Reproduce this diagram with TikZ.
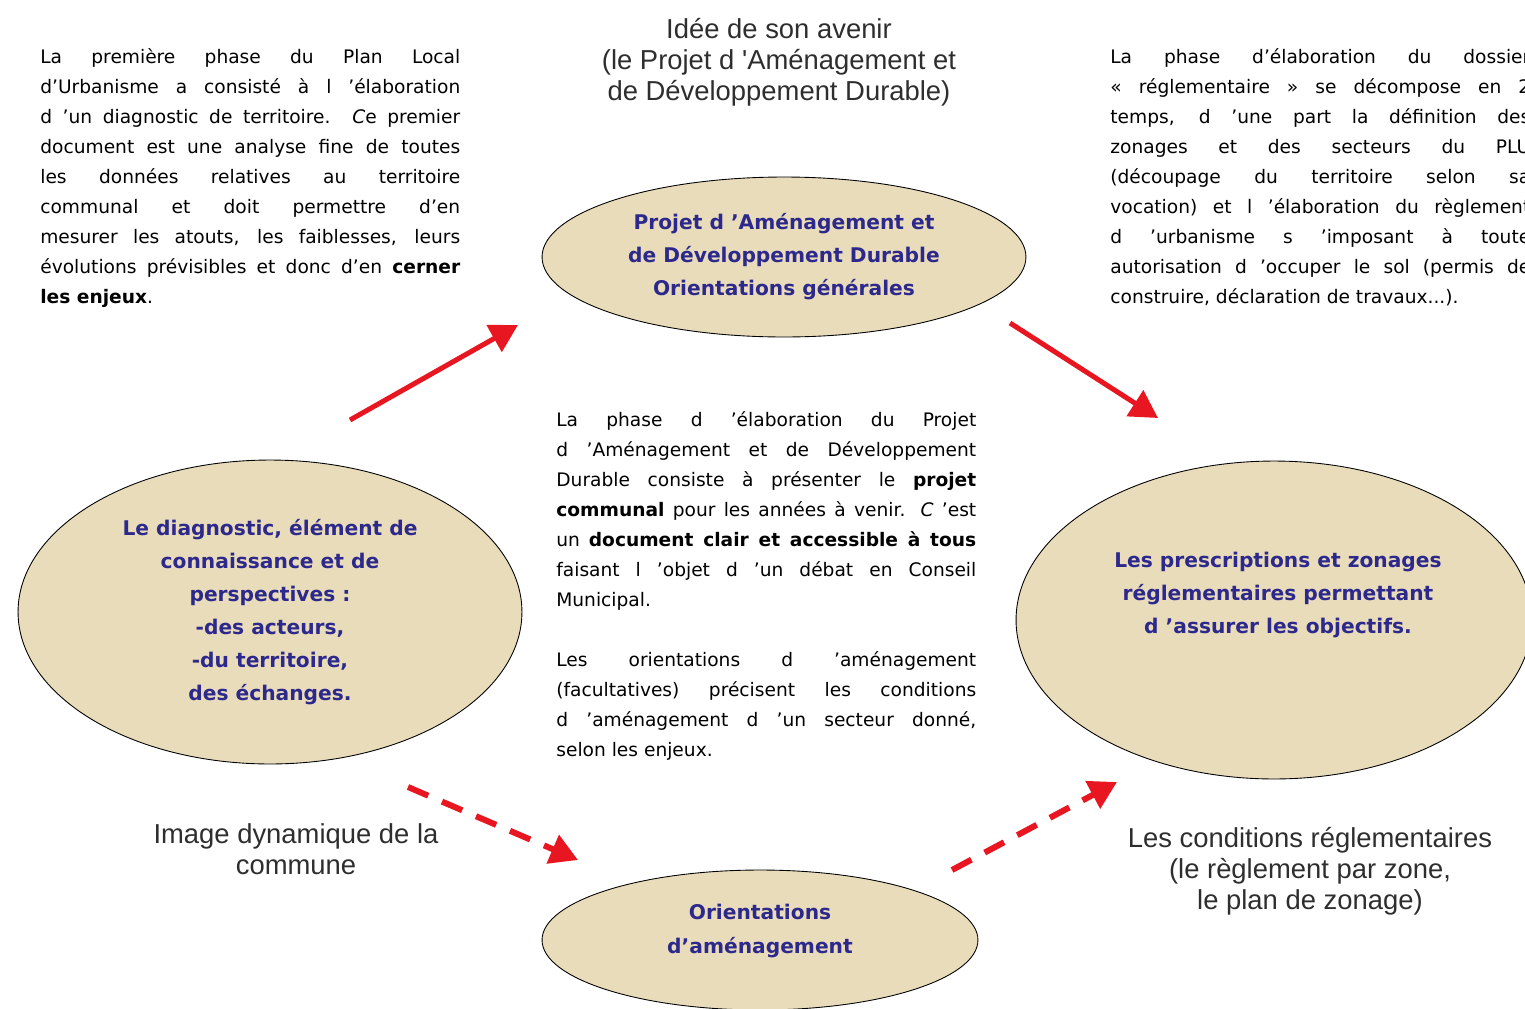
\documentclass[tikz,border=0pt]{standalone}
\usepackage{fontspec}
\setmainfont{DejaVu Sans}
\newfontfamily\arialfont{Liberation Sans}
\usepackage{xcolor}
\usepackage{tikz}
\usetikzlibrary{shapes,arrows}
\usetikzlibrary{positioning}
\usetikzlibrary{calc}
\usetikzlibrary{arrows.meta}
\definecolor{parchment}{RGB}{233,220,186}
\definecolor{phaseblue}{RGB}{44,40,140}
\definecolor{arrowred}{RGB}{232,22,32}
\newcommand{\nohyph}{\hyphenpenalty 10000 \exhyphenpenalty 10000 }
\newcommand{\parafont}{\fontsize{10.6}{17.1}\selectfont\nohyph}
\newcommand{\phasefont}{\fontsize{11.5}{18.8}\selectfont\bfseries}
\tikzstyle{phase} = [draw, ellipse, fill=parchment, line width=0.5pt, inner sep=0pt,
text=phaseblue, align=center, font=\phasefont]
\tikzstyle{phasetext} = [inner sep=0pt, text=phaseblue, align=center, font=\phasefont]
\tikzstyle{line} = [draw, arrowred, line width=0.1cm,
-{Triangle[length=0.55cm,width=0.6cm]}]
\tikzstyle{dline} = [line, line width=0.12cm, dash pattern=on 0.44cm off 0.3cm]
\tikzstyle{para} = [inner sep=0pt, anchor=north west, text width=8.4cm, align=justify,
font=\parafont]
\tikzstyle{caption} = [inner sep=0pt, align=center, text=black!82,
font=\arialfont\fontsize{15.6}{17.7}\selectfont]

\begin{document}
\begin{tikzpicture}[x=0.02cm, y=-0.02cm]
    \useasboundingbox (0,0) rectangle (1525,1008);
    %% Phases
    \node [phase, minimum width=9.68cm, minimum height=3.2cm] (padd) at (784,257)
      {Projet d 'Aménagement et\\de Développement Durable\\Orientations générales};
    \node [phase, minimum width=10.08cm, minimum height=6.08cm] (diag) at (270,612)
      {Le diagnostic, élément de\\connaissance et de\\perspectives :\\-des acteurs,\\-du territoire,\\des échanges.};
    \node [phase, minimum width=10.32cm, minimum height=6.36cm] (regl) at (1274,620) {};
    \node [phasetext] (regltext) at ($(regl.center)+(4,-25)$)
      {Les prescriptions et zonages\\réglementaires permettant\\d 'assurer les objectifs.};
    \node [phase, minimum width=8.72cm, minimum height=2.8cm] (orient) at (760,940) {};
    \node [phasetext] (orienttext) at ($(orient.center)+(0,-9)$)
      {Orientations\\d'aménagement};
    %% Captions
    \node [caption] (avenir) at (779,62)
      {Idée de son avenir\\(le Projet d 'Aménagement et\\de Développement Durable)};
    \node [caption] (image) at (296,849) {Image dynamique de la\\commune};
    \node [caption] (conditions) at (1310,871)
      {Les conditions réglementaires\\(le règlement par zone,\\le plan de zonage)};
    %% Texts
    \node [para] (diagdesc) at (40,48)
      {La première phase du Plan Local\linebreak
      d'Urbanisme a consisté à l 'élaboration\linebreak
      d 'un diagnostic de territoire. \textit{C}e premier\linebreak
      document est une analyse fine de toutes\linebreak
      les données relatives au territoire\linebreak
      communal et doit permettre d'en\linebreak
      mesurer les atouts, les faiblesses, leurs\linebreak
      évolutions prévisibles et donc d'en \textbf{cerner}\linebreak
      \textbf{les enjeux}.};
    \node [para] (regldesc) at (1110,48)
      {La phase d'élaboration du dossier\linebreak
      « réglementaire » se décompose en 2\linebreak
      temps, d 'une part la définition des\linebreak
      zonages et des secteurs du PLU\linebreak
      (découpage du territoire selon sa\linebreak
      vocation) et l 'élaboration du règlement\linebreak
      d 'urbanisme s 'imposant à toute\linebreak
      autorisation d 'occuper le sol (permis de\linebreak
      construire, déclaration de travaux...).};
    \node [para] (padddesc) at (556,411)
      {La phase d 'élaboration du Projet\linebreak
      d 'Aménagement et de Développement\linebreak
      Durable consiste à présenter le \textbf{projet}\linebreak
      \textbf{communal} pour les années à venir. \textit{C} 'est\linebreak
      un \textbf{document clair et accessible à tous}\linebreak
      faisant l 'objet d 'un débat en Conseil\linebreak
      Municipal.\par\vspace{17.1pt}
      Les orientations d 'aménagement\linebreak
      (facultatives) précisent les conditions\linebreak
      d 'aménagement d 'un secteur donné,\linebreak
      selon les enjeux.};
    %% Arrows
    \coordinate (a1s) at (350,420);
    \coordinate (a1e) at (518,325);
    \coordinate (a2s) at (1010,323);
    \coordinate (a2e) at (1158,418);
    \coordinate (a3s) at (408,787);
    \coordinate (a3e) at (578,860);
    \coordinate (a4s) at (952,870);
    \coordinate (a4e) at (1117,782);
    \path [line] (a1s) -- (a1e);
    \path [line] (a2s) -- (a2e);
    \path [dline] (a3s) -- (a3e);
    \path [dline] (a4s) -- (a4e);
  \end{tikzpicture}
\end{document}
